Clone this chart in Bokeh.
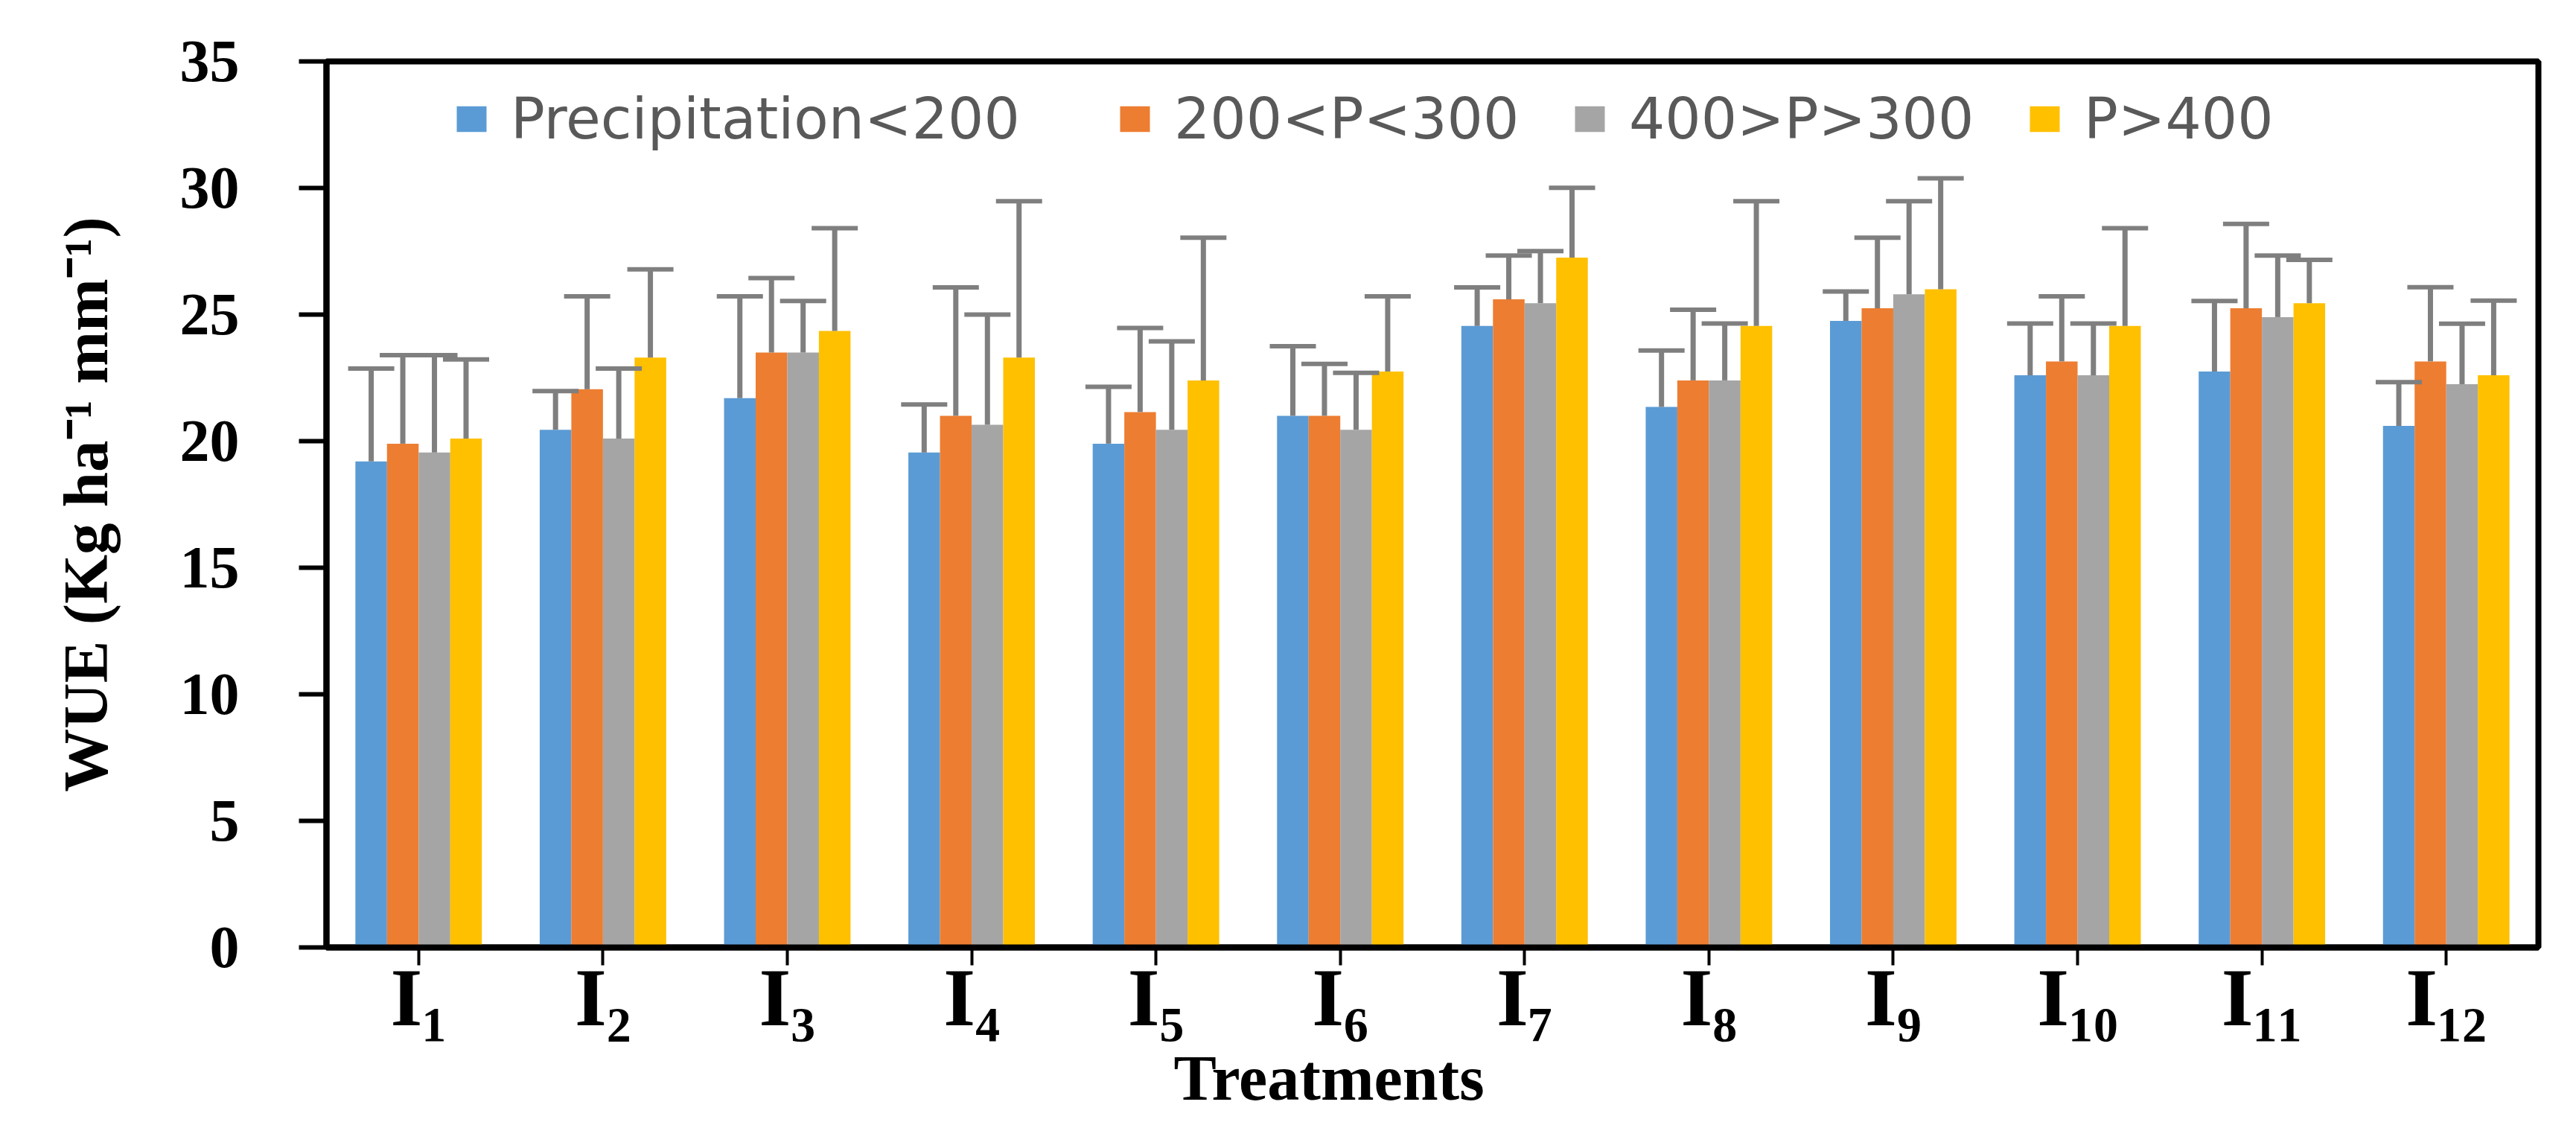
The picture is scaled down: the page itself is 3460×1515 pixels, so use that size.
from bokeh.plotting import figure
from bokeh.models import (FactorRange, Range1d, Whisker, TeeHead, Legend, LegendItem,
                          Title, FixedTicker, ColumnDataSource)
from bokeh.transform import dodge
from bokeh.embed import file_html
from bokeh.resources import INLINE

# ---------------- data ----------------
treatments = ["I₁", "I₂", "I₃", "I₄", "I₅", "I₆", "I₇", "I₈", "I₉", "I₁₀", "I₁₁", "I₁₂"]
series_names = ["Precipitation<200", "200<P<300", "400>P>300", "P>400"]

wue_p_lt200 = [19.2, 20.45, 21.7, 19.55, 19.9, 21.0, 24.55, 21.35, 24.75, 22.6, 22.75, 20.6]
wue_p_200_300 = [19.9, 22.05, 23.5, 21.0, 21.15, 21.0, 25.6, 22.4, 25.25, 23.15, 25.25, 23.15]
wue_p_300_400 = [19.55, 20.1, 23.5, 20.65, 20.45, 20.45, 25.45, 22.4, 25.8, 22.6, 24.9, 22.25]
wue_p_gt400 = [20.1, 23.3, 24.35, 23.3, 22.4, 22.75, 27.25, 24.55, 26.0, 24.55, 25.45, 22.6]

sd_p_lt200 = [3.67, 1.53, 4.02, 1.9, 2.25, 2.75, 1.52, 2.23, 1.16, 2.05, 2.79, 1.73]
sd_p_200_300 = [3.5, 3.67, 2.94, 5.07, 3.32, 2.05, 1.73, 2.79, 2.79, 2.57, 3.33, 2.93]
sd_p_300_400 = [3.85, 2.77, 2.04, 4.35, 3.49, 2.25, 2.06, 2.25, 3.68, 2.05, 2.43, 2.39]
sd_p_gt400 = [3.13, 3.49, 4.06, 6.18, 5.64, 2.97, 2.76, 4.93, 4.38, 3.86, 1.71, 2.95]

y_ticks = [0, 5, 10, 15, 20, 25, 30, 35]
x_title = "Treatments"
y_title = "WUE (Kg ha⁻¹ mm⁻¹)"

# ---------------- styling ----------------
colors = ["#5B9BD5", "#ED7D31", "#A5A5A5", "#FFC000"]
err_color = "#7F7F7F"
offsets = [-0.2573, -0.0858, 0.0858, 0.2573]
bar_w = 0.1716

values = [wue_p_lt200, wue_p_200_300, wue_p_300_400, wue_p_gt400]
sds = [sd_p_lt200, sd_p_200_300, sd_p_300_400, sd_p_gt400]

data = {"cat": treatments}
for i, (v, s) in enumerate(zip(values, sds)):
    data[f"v{i}"] = v
    data[f"u{i}"] = [a + b for a, b in zip(v, s)]
src = ColumnDataSource(data)

p = figure(x_range=FactorRange(*treatments), y_range=Range1d(0, 35),
           width=3444, height=1499, output_backend="svg", toolbar_location=None,
           min_border_left=438, min_border_right=35, min_border_top=82, min_border_bottom=227)

p.xgrid.visible = False
p.ygrid.visible = False
p.outline_line_color = "black"
p.outline_line_width = 8
p.outline_line_alpha = 1.0

renderers = []
for i in range(4):
    r = p.vbar(x=dodge("cat", offsets[i], range=p.x_range), top=f"v{i}", width=bar_w,
               source=src, fill_color=colors[i], line_color=None)
    renderers.append(r)

for i in range(4):
    w = Whisker(base=dodge("cat", offsets[i], range=p.x_range), upper=f"u{i}", lower=f"v{i}",
                source=src, dimension="height", line_color=err_color, line_width=7,
                upper_head=TeeHead(size=62, line_color=err_color, line_width=6),
                lower_head=None, level="annotation")
    p.add_layout(w)

# y axis
yax = p.yaxis[0]
yax.ticker = FixedTicker(ticks=y_ticks)
yax.axis_line_width = 8
yax.axis_line_color = "black"
yax.major_tick_line_width = 6
yax.major_tick_out = 37
yax.major_tick_in = 0
yax.minor_tick_out = 0
yax.minor_tick_in = 0
yax.major_label_text_font = "Liberation Serif"
yax.major_label_text_font_style = "bold"
yax.major_label_text_font_size = "80px"
yax.major_label_text_color = "black"
yax.major_label_standoff = 80
yax.axis_label = y_title
yax.axis_label_text_font = "Liberation Serif"
yax.axis_label_text_font_style = "bold"
yax.axis_label_text_font_size = "85px"
yax.axis_label_text_color = "black"
yax.axis_label_standoff = 77

# x axis
xax = p.xaxis[0]
xax.axis_line_width = 8
xax.axis_line_color = "black"
xax.major_tick_line_width = 4
xax.major_tick_out = 24
xax.major_tick_in = 0
xax.major_label_text_font = "Liberation Serif"
xax.major_label_text_font_style = "bold"
xax.major_label_text_font_size = "110px"
xax.major_label_text_color = "black"
xax.major_label_standoff = -18

p.add_layout(Title(text=x_title, align="left", offset=1138, standoff=-8, vertical_align="top",
                   text_font="Liberation Serif", text_font_style="bold",
                   text_font_size="86px", text_color="black"), "below")

# legends, one per item
leg_x = [170, 1061, 1672, 2283]
for i in range(4):
    leg = Legend(items=[LegendItem(label=series_names[i], renderers=[renderers[i]])],
                 location=(leg_x[i], 1068), orientation="horizontal",
                 border_line_color=None, background_fill_alpha=0, padding=0, margin=0,
                 glyph_width=50, glyph_height=43, label_height=43, label_standoff=28,
                 label_text_font="DejaVu Sans", label_text_font_size="76px",
                 label_text_color="#595959", label_text_baseline="middle")
    p.add_layout(leg)

open("out.html", "w").write(file_html(p, INLINE))
